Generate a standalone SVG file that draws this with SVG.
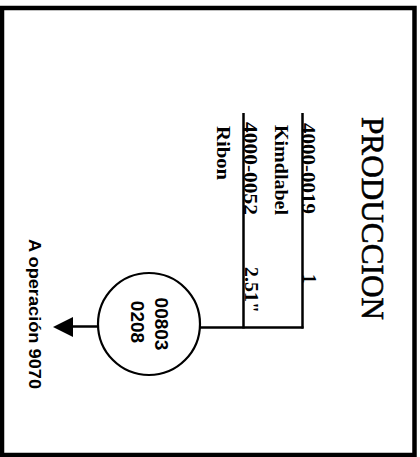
<svg xmlns="http://www.w3.org/2000/svg" width="420" height="457" viewBox="0 0 420 457">
<style>
.serif{font-family:"Liberation Serif","Times New Roman",serif;fill:#000}
.lbl{font-weight:bold}
.sans{font-family:"Liberation Sans",Arial,sans-serif;font-weight:bold;fill:#000}
.ln{stroke:#000;stroke-width:2.5;fill:none}
</style>
<rect x="2" y="8" width="412.5" height="447" fill="#fff" stroke="#000" stroke-width="4.5"/>
<g id="title">
<text class="serif" x="362" y="117" font-size="31" stroke="#000" stroke-width="0.6" textLength="203" lengthAdjust="spacingAndGlyphs" transform="rotate(90 362 117)">PRODUCCION</text>
</g>
<g id="connectors">
<line class="ln" x1="302.5" y1="113" x2="302.5" y2="328.5"/>
<line class="ln" x1="243.5" y1="113" x2="243.5" y2="328.5"/>
<line class="ln" x1="199" y1="327.5" x2="303.5" y2="327.5"/>
<line class="ln" x1="70" y1="326.5" x2="98" y2="326.5"/>
<polygon points="53,327 73,317 73,337" fill="#000"/>
</g>
<g id="line1">
<text class="serif lbl" x="302" y="123" font-size="19" textLength="91" lengthAdjust="spacingAndGlyphs" transform="rotate(90 302 123)">4000-0019</text>
<text class="serif lbl" x="275" y="125" font-size="19" textLength="90" lengthAdjust="spacingAndGlyphs" transform="rotate(90 275 125)">Kimdlabel</text>
<text class="serif lbl" x="303" y="274" font-size="19" transform="rotate(90 303 274)">1</text>
</g>
<g id="line2">
<text class="serif lbl" x="244" y="122" font-size="19" textLength="93" lengthAdjust="spacingAndGlyphs" transform="rotate(90 244 122)">4000-0052</text>
<text class="serif lbl" x="217" y="126" font-size="19" textLength="54" lengthAdjust="spacingAndGlyphs" transform="rotate(90 217 126)">Ribon</text>
<text class="serif lbl" x="245" y="267" font-size="19" textLength="46" lengthAdjust="spacingAndGlyphs" transform="rotate(90 245 267)">2.51"</text>
</g>
<g id="operation">
<circle cx="149" cy="324" r="51" fill="#fff" stroke="#000" stroke-width="2.2"/>
<text class="sans" x="155" y="324" font-size="19" text-anchor="middle" transform="rotate(90 155 324)">00803</text>
<text class="sans" x="131" y="322" font-size="19" text-anchor="middle" transform="rotate(90 131 322)">0208</text>
</g>
<g id="destination">
<text class="sans" x="29" y="239" font-size="17" textLength="150" lengthAdjust="spacingAndGlyphs" transform="rotate(90 29 239)">A operación 9070</text>
</g>
</svg>
